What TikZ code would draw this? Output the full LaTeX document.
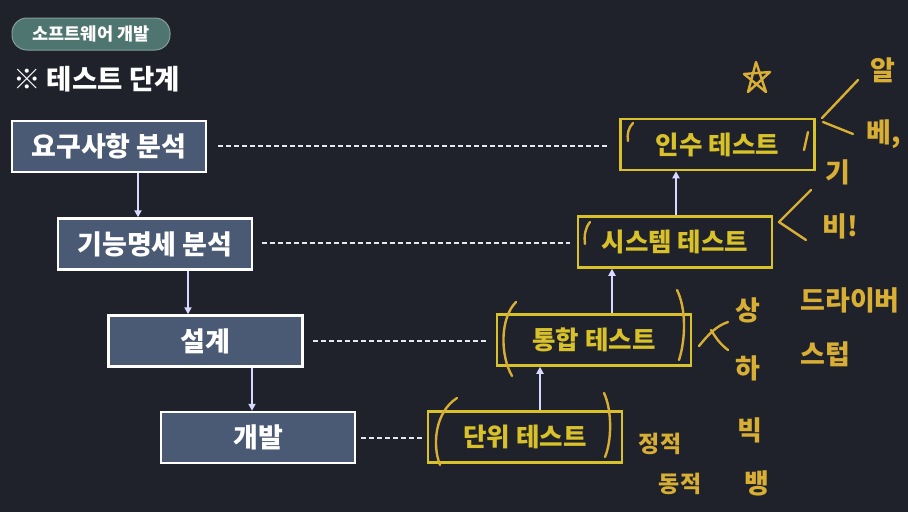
\documentclass[tikz,border=0pt]{standalone}
\usepackage{fontspec}
\setmainfont{Noto Sans CJK KR}
\usetikzlibrary{arrows.meta}
\definecolor{bg}{HTML}{1F222A}
\definecolor{boxfill}{HTML}{4B5A74}
\definecolor{tagfill}{HTML}{4F7571}
\definecolor{hl}{HTML}{D9C12A}
\definecolor{pen}{HTML}{D8AE35}
\definecolor{dashc}{HTML}{E6E8EE}
\tikzset{
  leftbox/.style={draw=white, line width=2.5pt, fill=boxfill, text=white, minimum width=194, minimum height=51, inner sep=0, font=\fontsize{27}{27}\selectfont\bfseries},
  rightbox/.style={draw=hl, line width=2.5pt, fill=bg, text=hl, minimum width=194, minimum height=51, inner sep=0, font=\fontsize{25.5}{25.5}\selectfont\bfseries},
  link/.style={dashc, line width=1.8pt, dash pattern=on 5pt off 3pt},
  flow/.style={white!85!blue, line width=1.8pt, -{Triangle[length=7pt,width=7pt]}},
  ink/.style={pen, line width=2.4pt, line cap=round, line join=round},
  hand/.style={text=pen, font=\fontsize{27}{27}\selectfont\bfseries, inner sep=0}
}
\begin{document}
\begin{tikzpicture}[x=1pt,y=-1pt]
\fill[bg] (0,0) rectangle (908,512);
\useasboundingbox (0,0) rectangle (908,512);

% tag and title
\node[fill=tagfill, draw=tagfill!70!white, line width=1pt, rounded corners=15pt, minimum width=158, minimum height=32, text=white, font=\fontsize{17.5}{17.5}\selectfont\bfseries, inner sep=0] (tag) at (91,34) {소프트웨어 개발};
\node[anchor=west, text=white, font=\fontsize{27.5}{27.5}\selectfont\bfseries, inner sep=0] (title) at (13,79) {※ 테스트 단계};

% left boxes
\node[leftbox] (req) at (109,146.5) {요구사항 분석};
\node[leftbox] (spec) at (155,244) {기능명세 분석};
\node[leftbox] (des) at (205.5,341) {설계};
\node[leftbox] (dev) at (258,437.5) {개발};

% right boxes
\node[rightbox] (acc) at (717.5,144.5) {인수 테스트};
\node[rightbox] (sys) at (675,242) {시스템 테스트};
\node[rightbox] (integ) at (594,340) {통합 테스트};
\node[rightbox] (unit) at (525,437) {단위 테스트};

% flow arrows
\draw[flow] (req.south -| 138,0) -- (spec.north -| 138,0);
\draw[flow] (spec.south -| 188,0) -- (des.north -| 188,0);
\draw[flow] (des.south -| 252,0) -- (dev.north -| 252,0);
\draw[flow] (unit.north -| 540,0) -- (integ.south -| 540,0);
\draw[flow] (integ.north -| 612,0) -- (sys.south -| 612,0);
\draw[flow] (sys.north -| 676,0) -- (acc.south -| 676,0);

% dashed links
\coordinate (r1a) at (218,146); \coordinate (r1b) at (608,146);
\coordinate (r2a) at (262,243); \coordinate (r2b) at (570,243);
\coordinate (r3a) at (313,341); \coordinate (r3b) at (486,341);
\coordinate (r4a) at (361,438); \coordinate (r4b) at (423,438);
\draw[link] (r1a) -- (r1b);
\draw[link] (r2a) -- (r2b);
\draw[link] (r3a) -- (r3b);
\draw[link] (r4a) -- (r4b);

% handwritten annotations
% star
\draw[ink] (748,92) -- (756,62) -- (766,92) -- (744,74) -- (770,72) -- cycle;
% acceptance test marks
\draw[ink] (633,123) .. controls (628,128) and (627,135) .. (628,141);
\draw[ink] (808,132) -- (804,150);
\draw[ink] (858,80) -- (822,118);
\draw[ink] (823,122) -- (853,134);
\node[hand] (alpha) at (883,70) {알};
\node[hand] (beta) at (884,134) {베,};
\node[hand] (func) at (838,172) {기};
\node[hand] (nonf) at (840,226) {비!};
% system test marks
\draw[ink] (811,190) -- (779,222) -- (806,240);
\draw[ink] (590,222) .. controls (585,228) and (584,236) .. (585,244);
% integration test parens and marks
\draw[ink] (516,302) .. controls (500,318) and (500,355) .. (512,376);
\draw[ink] (677,290) .. controls (686,308) and (686,338) .. (679,360);
\draw[ink] (699,346) .. controls (708,335) and (716,326) .. (728,322);
\draw[ink] (711,330) .. controls (716,338) and (720,344) .. (728,350);
\node[hand] (up) at (748,310) {상};
\node[hand] (down) at (748,368) {하};
\node[hand] (big) at (750,430) {빅};
\node[hand] (bang) at (757,483) {뱅};
\node[hand] (driver) at (850,300) {드라이버};
\node[hand] (stub) at (825,354) {스텁};
% unit test parens and marks
\draw[ink] (457,398) .. controls (435,412) and (432,445) .. (440,465);
\draw[ink] (604,393) .. controls (612,410) and (612,440) .. (605,457);
\node[hand, font=\fontsize{23}{23}\selectfont\bfseries] (static) at (660,444) {정적};
\node[hand, font=\fontsize{23}{23}\selectfont\bfseries] (dynamic) at (680,484) {동적};
\end{tikzpicture}
\end{document}
